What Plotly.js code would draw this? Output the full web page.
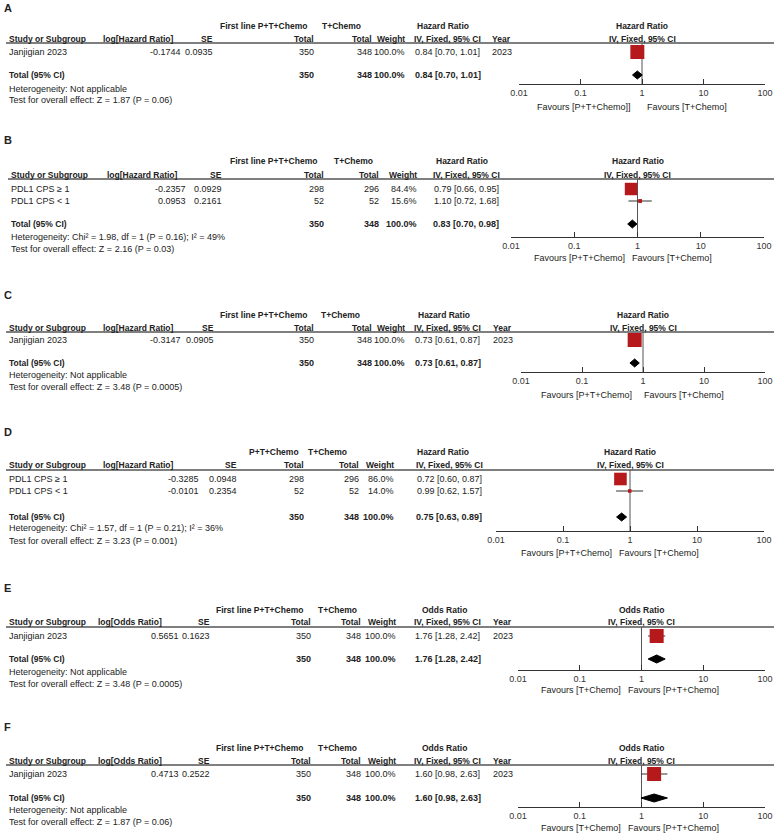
<!DOCTYPE html>
<html><head><meta charset="utf-8">
<script src="https://cdn.plot.ly/plotly-3.0.1.min.js"></script>
<style>html,body{margin:0;padding:0;background:#fff}#chart{width:774px;height:834px}</style>
</head><body><div id="chart"></div>
<script>
// ---------------- DATA ----------------
const tickVals = [0.01, 0.1, 1, 10, 100];
const tickText = ['0.01', '0.1', '1', '10', '100'];

// Panel A
const A_studies = ['Janjigian 2023'];
const A_logEst = [-0.1744];
const A_se = [0.0935];
const A_nExp = [350];
const A_nCtl = [348];
const A_weight = [100.0];
const A_est = [0.84];
const A_lo = [0.70];
const A_hi = [1.01];
const A_year = ['2023'];
const A_total = [0.84, 0.70, 1.01];
const A_het = 'Heterogeneity: Not applicable';
const A_test = 'Test for overall effect: Z = 1.87 (P = 0.06)';

// Panel B
const B_studies = ['PDL1 CPS ≥ 1', 'PDL1 CPS < 1'];
const B_logEst = [-0.2357, 0.0953];
const B_se = [0.0929, 0.2161];
const B_nExp = [298, 52];
const B_nCtl = [296, 52];
const B_weight = [84.4, 15.6];
const B_est = [0.79, 1.10];
const B_lo = [0.66, 0.72];
const B_hi = [0.95, 1.68];
const B_year = null;
const B_total = [0.83, 0.70, 0.98];
const B_het = 'Heterogeneity: Chi² = 1.98, df = 1 (P = 0.16); I² = 49%';
const B_test = 'Test for overall effect: Z = 2.16 (P = 0.03)';

// Panel C
const C_studies = ['Janjigian 2023'];
const C_logEst = [-0.3147];
const C_se = [0.0905];
const C_nExp = [350];
const C_nCtl = [348];
const C_weight = [100.0];
const C_est = [0.73];
const C_lo = [0.61];
const C_hi = [0.87];
const C_year = ['2023'];
const C_total = [0.73, 0.61, 0.87];
const C_het = 'Heterogeneity: Not applicable';
const C_test = 'Test for overall effect: Z = 3.48 (P = 0.0005)';

// Panel D
const D_studies = ['PDL1 CPS ≥ 1', 'PDL1 CPS < 1'];
const D_logEst = [-0.3285, -0.0101];
const D_se = [0.0948, 0.2354];
const D_nExp = [298, 52];
const D_nCtl = [296, 52];
const D_weight = [86.0, 14.0];
const D_est = [0.72, 0.99];
const D_lo = [0.60, 0.62];
const D_hi = [0.87, 1.57];
const D_year = null;
const D_total = [0.75, 0.63, 0.89];
const D_het = 'Heterogeneity: Chi² = 1.57, df = 1 (P = 0.21); I² = 36%';
const D_test = 'Test for overall effect: Z = 3.23 (P = 0.001)';

// Panel E
const E_studies = ['Janjigian 2023'];
const E_logEst = [0.5651];
const E_se = [0.1623];
const E_nExp = [350];
const E_nCtl = [348];
const E_weight = [100.0];
const E_est = [1.76];
const E_lo = [1.28];
const E_hi = [2.42];
const E_year = ['2023'];
const E_total = [1.76, 1.28, 2.42];
const E_het = 'Heterogeneity: Not applicable';
const E_test = 'Test for overall effect: Z = 3.48 (P = 0.0005)';

// Panel F
const F_studies = ['Janjigian 2023'];
const F_logEst = [0.4713];
const F_se = [0.2522];
const F_nExp = [350];
const F_nCtl = [348];
const F_weight = [100.0];
const F_est = [1.60];
const F_lo = [0.98];
const F_hi = [2.63];
const F_year = ['2023'];
const F_total = [1.60, 0.98, 2.63];
const F_het = 'Heterogeneity: Not applicable';
const F_test = 'Test for overall effect: Z = 1.87 (P = 0.06)';

// Labels
const panelLetters = ['A', 'B', 'C', 'D', 'E', 'F'];
const measureLabels = ['Hazard Ratio', 'Hazard Ratio', 'Hazard Ratio', 'Hazard Ratio', 'Odds Ratio', 'Odds Ratio'];
const logLabels = ['log[Hazard Ratio]', 'log[Hazard Ratio]', 'log[Hazard Ratio]', 'log[Hazard Ratio]', 'log[Odds Ratio]', 'log[Odds Ratio]'];
const expLabels = ['First line P+T+Chemo', 'First line P+T+Chemo', 'First line P+T+Chemo', 'P+T+Chemo', 'First line P+T+Chemo', 'First line P+T+Chemo'];
const ctlLabel = 'T+Chemo';
const favLeft = ['Favours [P+T+Chemo]]', 'Favours [P+T+Chemo]', 'Favours [P+T+Chemo]', 'Favours [P+T+Chemo]', 'Favours [T+Chemo]', 'Favours [T+Chemo]'];
const favRight = ['Favours [T+Chemo]', 'Favours [T+Chemo]', 'Favours [T+Chemo]', 'Favours [T+Chemo]', 'Favours [P+T+Chemo]', 'Favours [P+T+Chemo]'];

const dataSets = [
  {studies:A_studies, logEst:A_logEst, se:A_se, nExp:A_nExp, nCtl:A_nCtl, weight:A_weight, est:A_est, lo:A_lo, hi:A_hi, year:A_year, total:A_total, het:A_het, test:A_test},
  {studies:B_studies, logEst:B_logEst, se:B_se, nExp:B_nExp, nCtl:B_nCtl, weight:B_weight, est:B_est, lo:B_lo, hi:B_hi, year:B_year, total:B_total, het:B_het, test:B_test},
  {studies:C_studies, logEst:C_logEst, se:C_se, nExp:C_nExp, nCtl:C_nCtl, weight:C_weight, est:C_est, lo:C_lo, hi:C_hi, year:C_year, total:C_total, het:C_het, test:C_test},
  {studies:D_studies, logEst:D_logEst, se:D_se, nExp:D_nExp, nCtl:D_nCtl, weight:D_weight, est:D_est, lo:D_lo, hi:D_hi, year:D_year, total:D_total, het:D_het, test:D_test},
  {studies:E_studies, logEst:E_logEst, se:E_se, nExp:E_nExp, nCtl:E_nCtl, weight:E_weight, est:E_est, lo:E_lo, hi:E_hi, year:E_year, total:E_total, het:E_het, test:E_test},
  {studies:F_studies, logEst:F_logEst, se:F_se, nExp:F_nExp, nCtl:F_nCtl, weight:F_weight, est:F_est, lo:F_lo, hi:F_hi, year:F_year, total:F_total, het:F_het, test:F_test}
];

// ---------------- LAYOUT POSITIONS (pixels) ----------------
const W = 774, H = 834;
const pos = [
  {label:8, h1:26, h2:39, line:43, rows:[52], tot:75, het:89, test:100, axis:84, fav:107, ax0:519, ax1:765,
   left:8, logHdr:102, logVal:182, se:214, n1:315, n2:373, w:406, ci:448, hr:443, expH:219, ctlH:321, year:491, favL:632, favR:646},
  {label:140, h1:161, h2:175, line:179, rows:[189,201], tot:224, het:237, test:249, axis:237, fav:258, ax0:511, ax1:764,
   left:10, logHdr:106, logVal:187, se:223, n1:325, n2:380, w:418, ci:466, hr:462, expH:229, ctlH:333, year:null, favL:626, favR:631},
  {label:295, h1:315, h2:328, line:332, rows:[340], tot:363, het:375, test:387, axis:372, fav:395, ax0:521, ax1:765,
   left:8, logHdr:102, logVal:182, se:215, n1:315, n2:373, w:406, ci:448, hr:444, expH:219, ctlH:320, year:492, favL:633, favR:643},
  {label:432, h1:452, h2:465, line:470, rows:[479,491], tot:517, het:528, test:541, axis:531, fav:553, ax0:496, ax1:764,
   left:8, logHdr:102, logVal:200, se:238, n1:305, n2:360, w:395, ci:449, hr:443, expH:248, ctlH:307, year:null, favL:613, favR:618},
  {label:588, h1:610, h2:622, line:627, rows:[636], tot:659, het:672, test:684, axis:670, fav:690, ax0:518, ax1:765,
   left:8, logHdr:97, logVal:180, se:211, n1:312, n2:362, w:397, ci:448, hr:445, expH:215, ctlH:317, year:492, favL:622, favR:627},
  {label:727, h1:748, h2:761, line:765, rows:[774], tot:798, het:810, test:822, axis:807, fav:828, ax0:518, ax1:765,
   left:8, logHdr:97, logVal:180, se:211, n1:312, n2:362, w:397, ci:448, hr:445, expH:215, ctlH:317, year:492, favL:622, favR:627}
];

const FONT = 'Arial, "Liberation Sans", sans-serif';
const FS = 9;      // regular text
const FSB = 8.5;   // bold headers
const TXT = '#222';
const RED = '#B5191B';

const annotations = [];
const shapes = [];
const traces = [];
const layout = {
  width: W, height: H, margin: {l:0, r:0, t:0, b:0},
  paper_bgcolor: '#fff', plot_bgcolor: 'rgba(0,0,0,0)', showlegend: false,
  yaxis: {range: [H, 0], domain: [0, 1], visible: false, fixedrange: true, anchor: 'x'}
};

function txt(s, x, y, anchor, bold, size) {
  annotations.push({
    text: bold ? '<b>' + s + '</b>' : s, x: x / W, y: y, xref: 'paper', yref: 'y',
    xanchor: anchor, yanchor: 'middle', showarrow: false, borderpad: 0,
    font: {family: FONT, size: size || (bold ? FSB : FS), color: TXT}
  });
}
const f2 = v => v.toFixed(2);
const ciStr = (e, l, h) => f2(e) + ' [' + f2(l) + ', ' + f2(h) + ']';
const sum = a => a.reduce((s, v) => s + v, 0);

dataSets.forEach((d, i) => {
  const p = pos[i];
  const sfx = i === 0 ? '' : String(i + 1);
  const xa = 'x' + sfx;

  // panel letter
  txt(panelLetters[i], 3, p.label, 'left', true, 11);
  // header row 1
  txt(expLabels[i], p.expH, p.h1, 'left', true);
  txt(ctlLabel, p.ctlH, p.h1, 'left', true);
  txt(measureLabels[i], p.hr, p.h1, 'center', true);
  txt(measureLabels[i], (p.ax0 + p.ax1) / 2, p.h1, 'center', true);
  // header row 2
  txt('Study or Subgroup', p.left, p.h2, 'left', true);
  txt(logLabels[i], p.logHdr, p.h2, 'left', true);
  txt('SE', p.se, p.h2, 'right', true);
  txt('Total', p.n1, p.h2, 'right', true);
  txt('Total', p.n2, p.h2, 'right', true);
  txt('Weight', p.w, p.h2, 'right', true);
  txt('IV, Fixed, 95% CI', p.ci, p.h2, 'center', true);
  if (d.year) txt('Year', p.year, p.h2, 'left', true);
  txt('IV, Fixed, 95% CI', (p.ax0 + p.ax1) / 2, p.h2, 'center', true);
  // header rule
  shapes.push({type:'line', xref:'paper', yref:'y', x0:(p.left - 2) / W, x1:1, y0:p.line, y1:p.line,
               line:{color:'#555', width:1.3}});

  // line of no effect (drawn under the squares)
  traces.push({type:'scatter', mode:'lines', x:[1, 1], y:[p.line, p.axis], xaxis:xa, yaxis:'y',
               line:{color:'#555', width:1}, hoverinfo:'skip'});

  // study rows
  d.studies.forEach((s, k) => {
    const y = p.rows[k];
    txt(s, p.left, y, 'left', false);
    txt(d.logEst[k].toFixed(4), p.logVal, y, 'right', false);
    txt(d.se[k].toFixed(4), p.se, y, 'right', false);
    txt(String(d.nExp[k]), p.n1, y, 'right', false);
    txt(String(d.nCtl[k]), p.n2, y, 'right', false);
    txt(d.weight[k].toFixed(1) + '%', p.w, y, 'right', false);
    txt(ciStr(d.est[k], d.lo[k], d.hi[k]), p.ci, y, 'center', false);
    if (d.year) txt(d.year[k], p.year, y, 'left', false);
    // CI line
    traces.push({type:'scatter', mode:'lines', x:[d.lo[k], d.hi[k]], y:[y, y], xaxis:xa, yaxis:'y',
                 line:{color:'#333', width:1}, hoverinfo:'skip'});
  });
  // squares (area scaled by weight)
  traces.push({type:'scatter', mode:'markers', x:d.est, y:d.studies.map((s, k) => p.rows[k]), xaxis:xa, yaxis:'y',
               marker:{symbol:'square', color:RED, opacity:1, size:d.weight.map(w => 14 * Math.pow(w / 100, 0.7)), line:{width:0}},
               hoverinfo:'skip'});

  // total row
  txt('Total (95% CI)', p.left, p.tot, 'left', true);
  txt(String(sum(d.nExp)), p.n1, p.tot, 'right', true, FS);
  txt(String(sum(d.nCtl)), p.n2, p.tot, 'right', true, FS);
  txt(sum(d.weight).toFixed(1) + '%', p.w, p.tot, 'right', true, FS);
  txt(ciStr(d.total[0], d.total[1], d.total[2]), p.ci, p.tot, 'center', true, FS);
  txt(d.het, p.left, p.het, 'left', false);
  txt(d.test, p.left, p.test, 'left', false);

  // diamond
  const t = p.tot, hh = 4;
  traces.push({type:'scatter', mode:'lines', x:[d.total[1], d.total[0], d.total[2], d.total[0], d.total[1]],
               y:[t, t - hh, t, t + hh, t], xaxis:xa, yaxis:'y', fill:'toself', fillcolor:'#000',
               line:{color:'#000', width:1}, hoverinfo:'skip'});

  // favours
  txt(favLeft[i], p.favL, p.fav, 'right', false);
  txt(favRight[i], p.favR, p.fav, 'left', false);

  // x axis
  layout['xaxis' + sfx] = {
    type:'log', range:[-2, 2], domain:[p.ax0 / W, p.ax1 / W], anchor:'free', position: 1 - p.axis / H,
    showline:true, linecolor:'#333', linewidth:1, ticks:'inside', ticklen:5, tickcolor:'#333', tickwidth:1,
    tickvals:tickVals, ticktext:tickText, tickfont:{family:FONT, size:FS, color:'#333'},
    showgrid:false, zeroline:false, fixedrange:true
  };
});

layout.annotations = annotations;
layout.shapes = shapes;
Plotly.newPlot('chart', traces, layout, {staticPlot:true, displayModeBar:false});
</script>
</body></html>
